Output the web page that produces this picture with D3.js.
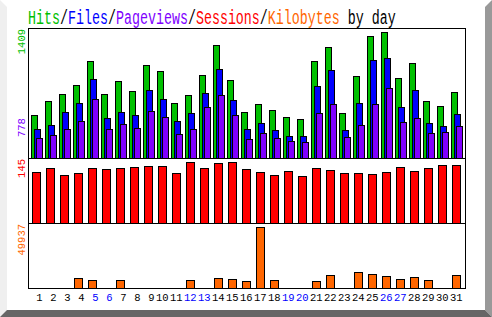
<!DOCTYPE html>
<html>
<head>
<meta charset="utf-8">
<script src="https://cdn.jsdelivr.net/npm/d3@7"></script>
<style>
  html, body { margin: 0; padding: 0; background: #fff; }
  svg { display: block; }
  text { font-family: "Liberation Mono", monospace; }
</style>
</head>
<body>
<svg id="chart"></svg>
<script>
// daily data
const days = ["1","2","3","4","5","6","7","8","9","10","11","12","13","14","15","16",
              "17","18","19","20","21","22","23","24","25","26","27","28","29","30","31"];
const weekendDays = ["5","6","12","13","19","20","26","27"];

const hits      = [478,635,714,815,1084,714,860,747,1039,972,613,703,927,1263,871,512,
                   602,534,456,434,1084,1241,501,916,1364,1409,893,1061,635,579,736];
const files     = [321,366,512,613,882,445,512,478,759,658,411,501,725,994,647,321,
                   389,310,243,243,804,983,310,613,1095,1117,568,759,389,355,490];
const pageviews = [220,254,321,411,658,321,377,333,523,456,265,321,568,703,478,209,
                   277,220,187,176,501,602,232,366,602,778,400,445,277,288,355];
const sessions  = [121,131,114,119,131,128,131,133,135,135,119,145,131,143,145,128,
                   121,114,124,112,131,126,119,119,116,121,133,124,131,138,138];
const kbytes    = [0,0,0,7957,6311,0,6311,0,0,0,0,6311,0,7957,7134,5488,
                   49937,6311,0,0,5488,10427,0,12896,11249,9603,7134,8780,6311,0,10427];

const titleParts = [
    {text: "Hits", color: "#00c000"},
    {text: "/", color: "#000"},
    {text: "Files", color: "#0000ff"},
    {text: "/", color: "#000"},
    {text: "Pageviews", color: "#8000ff"},
    {text: "/", color: "#000"},
    {text: "Sessions", color: "#ff0000"},
    {text: "/", color: "#000"},
    {text: "Kilobytes", color: "#ff6600"},
    {text: " by day", color: "#000"}
];

const width = 492, height = 317;
const svg = d3.select("svg#chart")
    .attr("width", width)
    .attr("height", height)
    .attr("viewBox", `0 0 ${width} ${height}`);

// 3d-ish frame round the image
svg.append("rect").attr("width", width).attr("height", height).attr("fill", "#fff");
svg.append("polygon").attr("points", "0,0 7,7 7,310 0,317").attr("fill", "#efefef");
svg.append("polygon").attr("points", "492,0 485,7 485,310 492,317").attr("fill", "#999");
svg.append("polygon").attr("points", "0,317 7,310 485,310 492,317").attr("fill", "#666");

// title, one char every 8px
const title = svg.append("g").attr("transform", "translate(28,24) scale(0.68,1)");
const titleText = title.append("text").attr("font-size", 19.6);
titleParts.forEach(p => titleText.append("tspan").attr("fill", p.color).text(p.text));

// day -> left pixel of the day's group
const x = d3.scaleLinear().domain([1, 31]).range([31, 451]);

// vertical scales for the three panels
const yMain = d3.scaleLinear().domain([0, d3.max(hits)]).range([158.5, 32.5]);
const ySess = d3.scaleLinear().domain([0, d3.max(sessions)]).range([223.5, 162.5]);
const yKb   = d3.scaleLinear().domain([0, d3.max(kbytes)]).range([288.5, 227.5]);

const bars = svg.append("g").attr("shape-rendering", "crispEdges");

function drawBars(values, y, offset, w, color) {
    const data = values.map((v, i) => ({day: +days[i], v})).filter(d => d.v > 0);
    bars.append("g").selectAll("rect")
        .data(data)
        .join("rect")
        .attr("x", d => x(d.day) + offset + 0.5)
        .attr("y", d => y(d.v))
        .attr("width", w)
        .attr("height", d => y(0) - y(d.v))
        .attr("fill", color)
        .attr("stroke", "#000")
        .attr("stroke-width", 1);
}

drawBars(hits, yMain, 0, 6, "#00c000");
drawBars(files, yMain, 3, 6, "#0000ff");
drawBars(pageviews, yMain, 5, 6, "#8000ff");
drawBars(sessions, ySess, 1, 8, "#ff0000");
drawBars(kbytes, yKb, 1, 8, "#ff6600");

// panel frame
const frame = svg.append("g").attr("shape-rendering", "crispEdges")
    .attr("stroke", "#000").attr("fill", "none");
frame.append("rect").attr("x", 28.5).attr("y", 28.5).attr("width", 437).attr("height", 260);
frame.append("line").attr("x1", 28).attr("x2", 466).attr("y1", 158.5).attr("y2", 158.5);
frame.append("line").attr("x1", 28).attr("x2", 466).attr("y1", 223.5).attr("y2", 223.5);

// rotated max labels on the left
function sideLabel(txt, y, anchor, color) {
    svg.append("text")
        .attr("transform", `translate(25,${y}) rotate(-90)`)
        .attr("text-anchor", anchor)
        .attr("font-size", 10.5)
        .attr("fill", color)
        .text(txt);
}
sideLabel(d3.max(hits), 29, "end", "#00c000");
sideLabel(d3.max(pageviews), 137, "start", "#8000ff");
sideLabel(d3.max(sessions), 159, "end", "#ff0000");
sideLabel(d3.max(kbytes), 224, "end", "#ff6600");

// day labels, weekends in blue
svg.append("g").selectAll("text")
    .data(days)
    .join("text")
    .attr("x", d => x(+d) + 11.5)
    .attr("y", 301)
    .attr("text-anchor", "end")
    .attr("font-size", 10.5)
    .attr("fill", d => weekendDays.includes(d) ? "#0000ff" : "#000")
    .text(d => d);
</script>
</body>
</html>
